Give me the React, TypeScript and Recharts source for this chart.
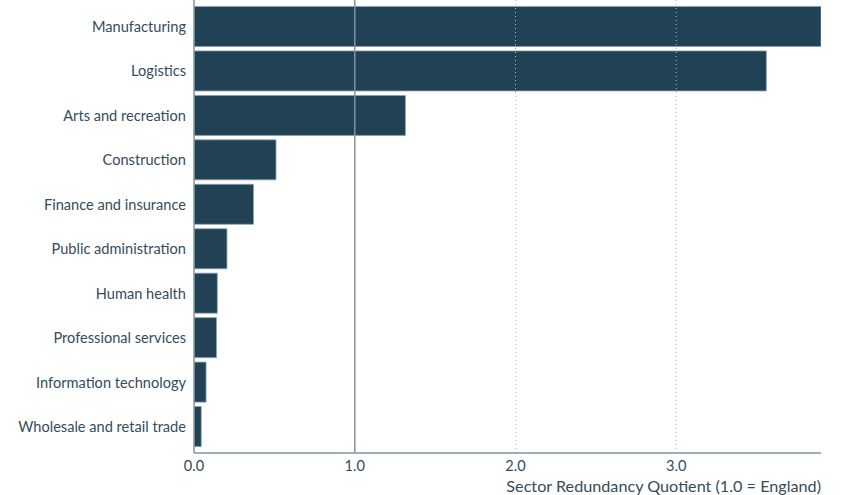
import { BarChart, Bar, XAxis, YAxis, ReferenceLine, Label } from "recharts";

const sectors = [
  "Manufacturing",
  "Logistics",
  "Arts and recreation",
  "Construction",
  "Finance and insurance",
  "Public administration",
  "Human health",
  "Professional services",
  "Information technology",
  "Wholesale and retail trade",
];
const quotients = [3.9, 3.56, 1.315, 0.51, 0.37, 0.205, 0.145, 0.14, 0.075, 0.045];
const xTicks = [0, 1, 2, 3];
const gridTicks = [2, 3];

const data = sectors.map((name, i) => ({ name, value: quotients[i] }));

const textColor = "#344c5b";
const axisColor = "#7f94a2";
const font = "Lato, 'Open Sans', sans-serif";

export default function App() {
  return (
    <div style={{ position: "absolute", left: 0, top: 0, fontFamily: font }}>
      <BarChart
        width={841}
        height={495}
        data={data}
        layout="vertical"
        margin={{ top: 0, right: 20, bottom: 0, left: 0 }}
      >
        {gridTicks.map((t) => (
          <ReferenceLine key={t} x={t} stroke="#aebbc4" strokeDasharray="1 3" />
        ))}
        <XAxis
          type="number"
          domain={[0, 3.9]}
          ticks={xTicks}
          allowDataOverflow
          tickFormatter={(v: number) => v.toFixed(1)}
          tickLine={false}
          axisLine={{ stroke: axisColor, strokeWidth: 1.5 }}
          tick={{ fill: textColor, fontSize: 14.6, fontFamily: font }}
          height={42}
        >
          <Label
            value="Sector Redundancy Quotient (1.0 = England)"
            position="insideBottomRight"
            offset={3}
            dx={3}
            fill={textColor}
            fontSize={16.2}
            fontFamily={font}
          />
        </XAxis>
        <YAxis
          type="category"
          dataKey="name"
          width={194}
          tickLine={false}
          axisLine={{ stroke: axisColor, strokeWidth: 1.5 }}
          tick={{ fill: textColor, fontSize: 14.6, fontFamily: font }}
          padding={{ top: 4.5, bottom: 4 }}
          interval={0}
        />
        <Bar
          dataKey="value"
          fill="#214254"
          stroke="#8aa0ae"
          strokeWidth={0.8}
          barSize={40}
          isAnimationActive={false}
        />
        <ReferenceLine x={1} stroke={axisColor} strokeWidth={1.5} />
      </BarChart>
    </div>
  );
}
